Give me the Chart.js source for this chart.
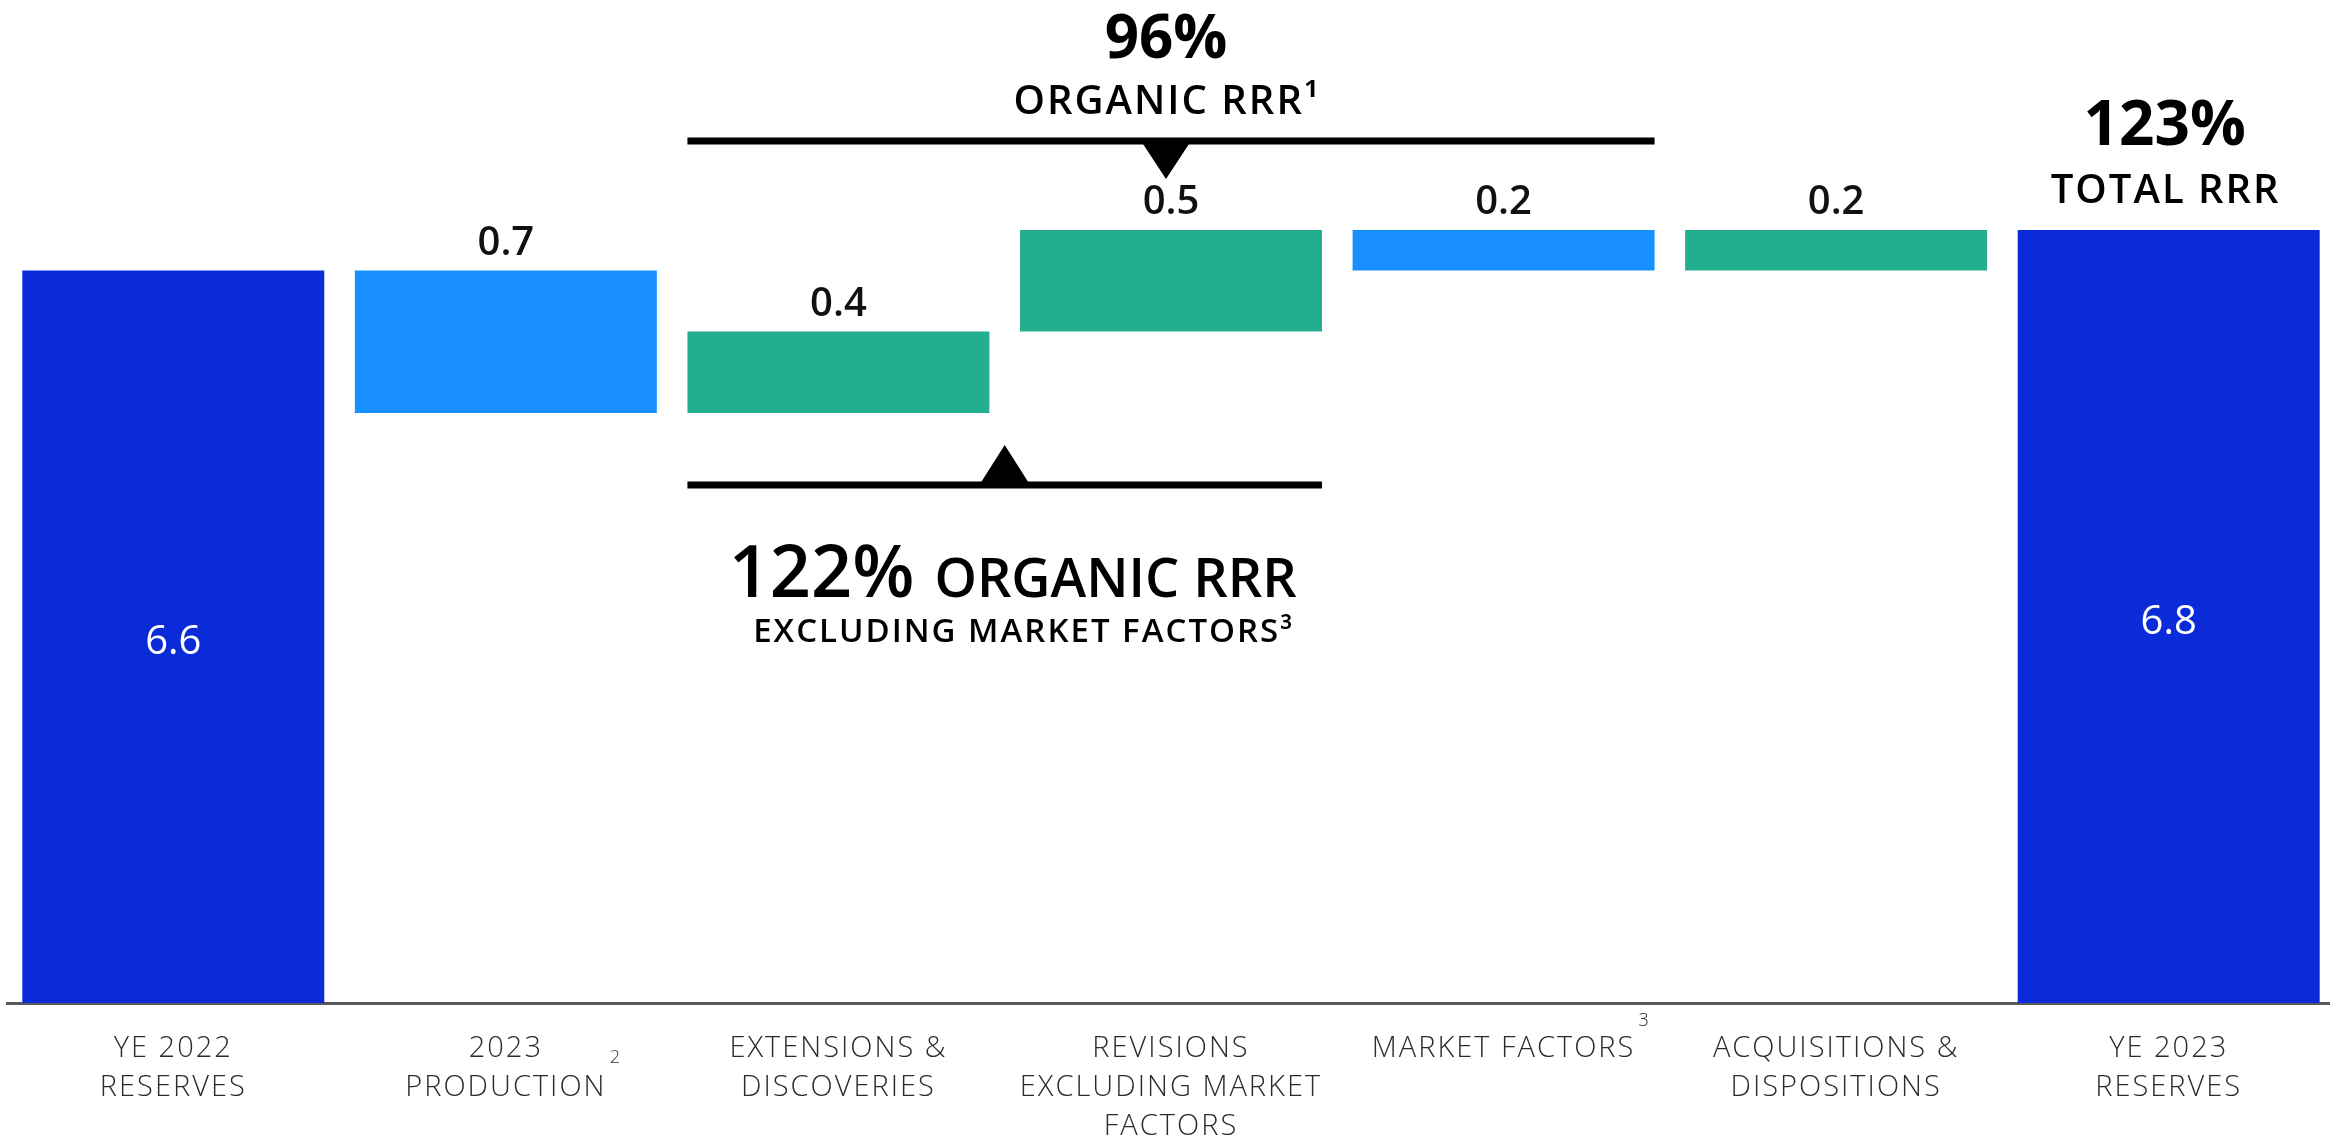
<!DOCTYPE html>
<html>
<head>
<meta charset="utf-8">
<script src="https://cdn.jsdelivr.net/npm/chart.js@4.4.1/dist/chart.umd.min.js"></script>
<style>
  html, body { margin: 0; padding: 0; background: #fff; overflow: hidden; }
  #wrap { width: 2336px; height: 1138px; }
</style>
</head>
<body>
<div id="wrap"><canvas id="reservesChart" width="2336" height="1138"></canvas></div>
<script>
// reserves walk, YE 2022 -> YE 2023
const categories = [
    ['YE 2022', 'RESERVES'],
    ['2023', 'PRODUCTION'],
    ['EXTENSIONS &', 'DISCOVERIES'],
    ['REVISIONS', 'EXCLUDING MARKET', 'FACTORS'],
    ['MARKET FACTORS'],
    ['ACQUISITIONS &', 'DISPOSITIONS'],
    ['YE 2023', 'RESERVES']
];
const changes = [6.6, -0.7, 0.4, 0.5, -0.2, 0.2, 6.8];
const isTotal = [true, false, false, false, false, false, true];
const footnotes = ['', '2', '', '', '3', '', ''];

const darkBlue = '#0b2bd9';
const lightBlue = '#1890ff';
const green = '#23af8f';

// floating ranges for the waterfall
let running = 0;
let ranges = changes.map((v, i) => {
    if (isTotal[i]) {
        running = v;
        return [0, v];
    }
    let start = running;
    running += v;
    return [Math.min(start, running), Math.max(start, running)];
});
let colors = changes.map((v, i) => isTotal[i] ? darkBlue : (v < 0 ? lightBlue : green));

function drawText(ctx, text, x, y, font, color, spacing) {
    ctx.save();
    ctx.font = font;
    ctx.fillStyle = color;
    ctx.textAlign = 'center';
    ctx.textBaseline = 'alphabetic';
    ctx.letterSpacing = (spacing || 0) + 'px';
    ctx.fillText(text, x + (spacing || 0) / 2, y);
    ctx.restore();
}

const FONT = '"Open Sans", "Noto Sans", sans-serif';

let annotations = {
    id: 'annotations',
    beforeDraw(chart) {
        chart.ctx.letterSpacing = '2px';   // category labels
    },
    beforeDatasetsDraw(chart) {
        chart.ctx.letterSpacing = '0px';
    },
    afterDatasetsDraw(chart) {
        let ctx = chart.ctx;
        let meta = chart.getDatasetMeta(0);
        let x = chart.scales.x;
        let bottom = chart.chartArea.bottom;

        // value labels
        meta.data.forEach((bar, i) => {
            let label = Math.abs(changes[i]).toFixed(1);
            if (isTotal[i]) {
                ctx.save();
                ctx.font = '400 40px ' + FONT;
                ctx.fillStyle = '#ffffff';
                ctx.textAlign = 'center';
                ctx.textBaseline = 'middle';
                ctx.fillText(label, bar.x, (bar.y + Math.min(bar.base, bottom)) / 2 + 6);
                ctx.restore();
            } else {
                let top = Math.min(bar.y, bar.base);
                drawText(ctx, label, bar.x, top - 16, '600 40px ' + FONT, '#111');
            }
        });

        // footnote markers on the category labels
        ctx.save();
        ctx.font = '300 18px ' + FONT;
        ctx.fillStyle = '#2b2b2b';
        ctx.textAlign = 'center';
        ctx.textBaseline = 'middle';
        footnotes.forEach((f, i) => {
            if (!f) return;
            let px = x.getPixelForValue(i);
            if (categories[i].length > 1) ctx.fillText(f, px + 109, 1058);
            else ctx.fillText(f, px + 140, 1021);
        });
        ctx.restore();

        let w = meta.data[0].width;
        let ext = meta.data[2], rev = meta.data[3], mkt = meta.data[4];

        // top bracket: organic RRR (extensions .. market factors)
        let l1 = ext.x - w / 2, r1 = mkt.x + w / 2, c1 = (l1 + r1) / 2 - 5;
        ctx.save();
        ctx.fillStyle = '#000';
        ctx.fillRect(l1, 137.5, r1 - l1, 7);
        ctx.beginPath();
        ctx.moveTo(c1 - 23, 144);
        ctx.lineTo(c1 + 23, 144);
        ctx.lineTo(c1, 179);
        ctx.closePath();
        ctx.fill();

        // bottom bracket: excluding market factors
        let l2 = ext.x - w / 2, r2 = rev.x + w / 2, c2 = (l2 + r2) / 2;
        ctx.fillRect(l2, 481.5, r2 - l2, 7);
        ctx.beginPath();
        ctx.moveTo(c2 - 23.5, 482);
        ctx.lineTo(c2 + 23.5, 482);
        ctx.lineTo(c2, 445);
        ctx.closePath();
        ctx.fill();
        ctx.restore();

        drawText(ctx, '96%', c1, 58, '700 60px ' + FONT, '#000');
        drawText(ctx, 'ORGANIC RRR¹', c1, 114, '600 40px ' + FONT, '#000', 2);

        // 122% ORGANIC RRR, two fonts on one line
        ctx.save();
        let bigFont = '600 72px ' + FONT, midFont = '600 54px ' + FONT;
        ctx.font = bigFont;
        let wa = ctx.measureText('122%').width;
        ctx.font = midFont;
        let wb = ctx.measureText('ORGANIC RRR').width;
        let gap = 20;
        let start = c2 + 8 - (wa + gap + wb) / 2;
        ctx.fillStyle = '#000';
        ctx.textAlign = 'left';
        ctx.textBaseline = 'alphabetic';
        ctx.font = bigFont;
        ctx.fillText('122%', start, 597);
        ctx.font = midFont;
        ctx.fillText('ORGANIC RRR', start + wa + gap, 597);
        ctx.restore();
        drawText(ctx, 'EXCLUDING MARKET FACTORS³', c2 + 18, 642, '600 33px ' + FONT, '#000', 2);

        let last = meta.data[6];
        drawText(ctx, '123%', last.x - 4, 145, '700 62px ' + FONT, '#000');
        drawText(ctx, 'TOTAL RRR', last.x - 4, 203, '600 40px ' + FONT, '#000', 2);
    }
};

let ctx = document.getElementById('reservesChart').getContext('2d');

let chart = new Chart(ctx, {
    type: 'bar',
    data: {
        labels: categories,
        datasets: [{
            data: ranges,
            backgroundColor: colors,
            borderWidth: 0,
            borderSkipped: false,
            barPercentage: 0.908,
            categoryPercentage: 1.0
        }]
    },
    options: {
        responsive: false,
        animation: false,
        layout: { padding: { left: 7, right: 1, top: 0, bottom: 0 } },
        plugins: {
            legend: { display: false },
            tooltip: { enabled: false }
        },
        scales: {
            x: {
                grid: { display: false, drawTicks: false },
                border: { display: true, color: '#595959', width: 3 },
                ticks: {
                    font: { family: FONT, size: 29, weight: 300, lineHeight: 1.35 },
                    color: '#2b2b2b',
                    padding: 26,
                    maxRotation: 0,
                    autoSkip: false
                },
                afterFit: (scale) => { scale.height = 135; }
            },
            y: { display: false, min: 3, max: 7.93 }
        }
    },
    plugins: [annotations]
});
</script>
</body>
</html>
